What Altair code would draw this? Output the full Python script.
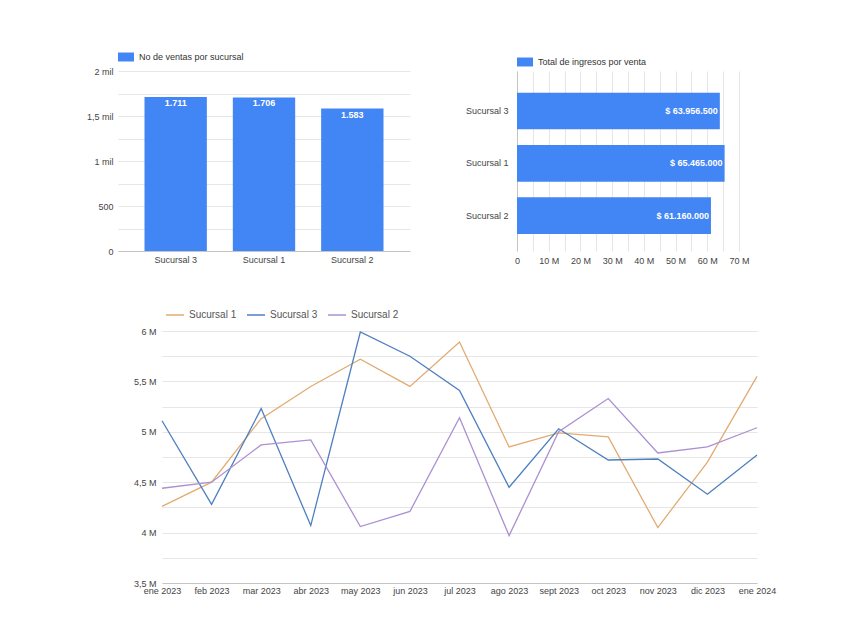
import altair as alt
import pandas as pd

# ---------------- data ----------------
sucursales = ["Sucursal 3", "Sucursal 1", "Sucursal 2"]
ventas = [1711, 1706, 1583]
ingresos = [63956500, 65465000, 61160000]

meses = ["ene 2023", "feb 2023", "mar 2023", "abr 2023", "may 2023", "jun 2023",
         "jul 2023", "ago 2023", "sept 2023", "oct 2023", "nov 2023", "dic 2023", "ene 2024"]
suc1 = [4260000, 4500000, 5130000, 5450000, 5720000, 5450000, 5890000,
        4850000, 4990000, 4950000, 4050000, 4700000, 5550000]
suc3 = [5110000, 4280000, 5230000, 4070000, 5990000, 5750000, 5410000,
        4450000, 5030000, 4720000, 4730000, 4380000, 4770000]
suc2 = [4440000, 4500000, 4870000, 4920000, 4060000, 4210000, 5140000,
        3970000, 5000000, 5330000, 4790000, 4850000, 5040000]

line_order = ["Sucursal 1", "Sucursal 3", "Sucursal 2"]

FONT = "Liberation Sans"
BLUE = "#4285f4"
LINE_COLORS = ["#e2ab72", "#4e7fc0", "#ab90d2"]
LABEL = "#444444"
GRID = "#e6e6e6"
DOMAIN = "#c4c4c4"
RECT = "M-1,-0.56H1V0.56H-1Z"

# ---------------- chart 1: ventas ----------------
df_v = pd.DataFrame({"sucursal": sucursales, "ventas": ventas,
                     "serie": ["No de ventas por sucursal"] * 3})
base_v = alt.Chart(df_v).transform_calculate(
    etiqueta="replace(format(datum.ventas, ','), /,/g, '.')"
)
xv = alt.X("sucursal:N", sort=sucursales, title=None,
           scale=alt.Scale(paddingInner=0.294, paddingOuter=0.3),
           axis=alt.Axis(labelAngle=0, ticks=False, grid=False, domainColor=DOMAIN,
                         labelPadding=4, labelFontSize=9, labelColor=LABEL))
yv = alt.Y("ventas:Q", title=None, scale=alt.Scale(domain=[0, 2000], nice=False),
           axis=alt.Axis(values=list(range(0, 2001, 250)), ticks=False, domain=False,
                         gridColor=GRID, labelPadding=5, labelFontSize=9, labelColor=LABEL,
                         minExtent=40, labelOverlap=False, labelFlush=False,
                         labelExpr="datum.value == 0 ? '0' : datum.value == 500 ? '500' : "
                                   "datum.value % 500 == 0 ? replace(format(datum.value/1000, '.1~f'), '.', ',') + ' mil' : ''"))
bars_v = base_v.mark_bar().encode(
    x=xv, y=yv,
    color=alt.Color("serie:N", scale=alt.Scale(range=[BLUE]),
                    legend=alt.Legend(title=None, orient="none", legendX=0, legendY=-22,
                                      symbolType=RECT, symbolSize=256, symbolStrokeWidth=0,
                                      labelFontSize=9, labelColor="#333333", labelOffset=5)),
)
text_v = base_v.mark_text(color="white", fontWeight="bold", fontSize=9, baseline="top", dy=2).encode(
    x=xv, y=yv, text="etiqueta:N")
left = alt.layer(bars_v, text_v).properties(width=292, height=180)

# ---------------- chart 2: ingresos ----------------
df_i = pd.DataFrame({"sucursal": sucursales, "ingresos": ingresos,
                     "serie": ["Total de ingresos por venta"] * 3})
base_i = alt.Chart(df_i).transform_calculate(
    etiqueta="'$ ' + replace(format(datum.ingresos, ','), /,/g, '.')"
)
xi = alt.X("ingresos:Q", title=None, scale=alt.Scale(domain=[0, 70000000], nice=False),
           axis=alt.Axis(values=list(range(0, 70000001, 5000000)), ticks=False, domain=False,
                         gridColor=GRID, labelPadding=5, labelFontSize=9, labelColor=LABEL,
                         labelOverlap=False, labelFlush=False,
                         labelExpr="datum.value == 0 ? '0' : datum.value % 10000000 == 0 ? "
                                   "(datum.value/1000000) + ' M' : ''"))
yi = alt.Y("sucursal:N", sort=sucursales, title=None,
           scale=alt.Scale(paddingInner=0.3, paddingOuter=0.371, align=0.56),
           axis=alt.Axis(ticks=False, grid=False, domainColor=DOMAIN, labelPadding=9,
                         labelFontSize=9, labelColor=LABEL, minExtent=55))
bars_i = base_i.mark_bar().encode(
    x=xi, y=yi,
    color=alt.Color("serie:N", scale=alt.Scale(range=[BLUE]),
                    legend=alt.Legend(title=None, orient="none", legendX=0, legendY=-17,
                                      symbolType=RECT, symbolSize=256, symbolStrokeWidth=0,
                                      labelFontSize=9, labelColor="#333333", labelOffset=5)),
)
text_i = base_i.mark_text(color="white", fontWeight="bold", fontSize=9, align="right", dx=-2).encode(
    x=xi, y=yi, text="etiqueta:N")
right = alt.layer(bars_i, text_i).properties(width=222, height=180)

# ---------------- chart 3: lines ----------------
rows = []
for name, vals in (("Sucursal 1", suc1), ("Sucursal 3", suc3), ("Sucursal 2", suc2)):
    for m, v in zip(meses, vals):
        rows.append({"mes": m, "sucursal": name, "valor": v})
df_l = pd.DataFrame(rows)

line = alt.Chart(df_l).mark_line(strokeWidth=1.3).encode(
    x=alt.X("mes:N", sort=meses, title=None, scale=alt.Scale(type="point", padding=0),
            axis=alt.Axis(labelAngle=0, ticks=False, grid=False, domainColor=DOMAIN,
                          labelPadding=3, labelFontSize=9, labelColor=LABEL, labelOverlap=False,
                          labelFlush=False)),
    y=alt.Y("valor:Q", title=None, scale=alt.Scale(domain=[3500000, 6000000], nice=False),
            axis=alt.Axis(values=list(range(3500000, 6000001, 250000)), ticks=False, domain=False,
                          gridColor=GRID, labelPadding=6, labelFontSize=9, labelColor=LABEL,
                          minExtent=36, labelOverlap=False, labelFlush=False,
                          labelExpr="datum.value % 500000 == 0 ? "
                                    "replace(format(datum.value/1000000, '.1~f'), '.', ',') + ' M' : ''")),
    color=alt.Color("sucursal:N", scale=alt.Scale(domain=line_order, range=LINE_COLORS),
                    legend=alt.Legend(title=None, orient="none", legendX=3, legendY=-26,
                                      direction="horizontal", columns=3, columnPadding=7,
                                      symbolType="stroke", symbolSize=324, symbolStrokeWidth=1.5,
                                      labelFontSize=10, labelColor="#555555", labelOffset=4)),
).properties(width=595, height=252)

# invisible spacer that indents the line chart relative to the top row
spacer = alt.Chart(pd.DataFrame({"v": [0]})).mark_point(size=1, opacity=0).encode(
    x=alt.value(0), y=alt.value(0)
).properties(width=1, height=1)

top = alt.hconcat(left, right, spacing=52).resolve_scale(color="independent")
bottom = alt.hconcat(spacer, line, spacing=7).resolve_scale(color="independent")
chart = alt.vconcat(top, bottom, spacing=40).resolve_scale(color="independent").properties(
    padding={"left": 70, "top": 41, "right": 5, "bottom": 5}
).configure(font=FONT).configure_view(strokeWidth=0)

chart.save("out.html", embed_options={"renderer": "svg", "actions": False})
